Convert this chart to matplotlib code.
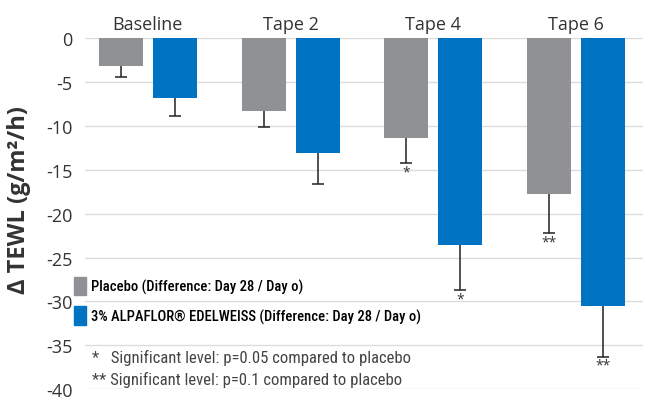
import matplotlib.pyplot as plt
import matplotlib.font_manager as fm
import numpy as np
from matplotlib.patches import Patch

groups = ['Baseline', 'Tape 2', 'Tape 4', 'Tape 6']
placebo = [-3.1, -8.3, -11.4, -17.7]
placebo_err = [1.25, 1.85, 2.8, 4.5]
placebo_sig = ['', '', '*', '**']
alpaflor = [-6.75, -13.05, -23.6, -30.5]
alpaflor_err = [2.05, 3.55, 5.1, 5.8]
alpaflor_sig = ['', '', '*', '**']
yticks = [0, -5, -10, -15, -20, -25, -30, -35, -40]

legend_labels = ['Placebo (Difference: Day 28 / Day o)',
                 '3% ALPAFLOR® EDELWEISS (Difference: Day 28 / Day o)']
notes = ['*   Significant level: p=0.05 compared to placebo',
         '** Significant level: p=0.1 compared to placebo']

gray = '#909194'
blue = '#0073c2'

plt.rcParams['font.family'] = ['Open Sans', 'DejaVu Sans']

# pick a narrow face for the small texts if there is one
names = {f.name for f in fm.fontManager.ttflist}
narrow = next((n for n in ['Liberation Sans Narrow', 'Roboto Condensed',
                           'Open Sans Condensed', 'Noto Sans'] if n in names), 'DejaVu Sans')

fig = plt.figure(figsize=(6.6, 4.14), dpi=100)
ax = fig.add_axes([0.1288, 0.058, 0.845, 0.8466])

x = np.arange(len(groups))
w = 0.308
off = 0.189

ax.bar(x - off, placebo, w, color=gray, zorder=2)
ax.bar(x + off, alpaflor, w, color=blue, zorder=2)

# error bars only go down, so hide the upper caps
for xs, vals, errs in [(x - off, placebo, placebo_err), (x + off, alpaflor, alpaflor_err)]:
    eb = ax.errorbar(xs, vals, yerr=[errs, np.zeros(4)], fmt='none',
                     ecolor='#222222', elinewidth=1.1, capsize=4, capthick=1.1, zorder=3)
    eb[1][1].set_visible(False)

for i in range(len(groups)):
    if placebo_sig[i]:
        ax.annotate(placebo_sig[i], (x[i] - off, placebo[i] - placebo_err[i]),
                    xytext=(0, -1), textcoords='offset points', ha='center', va='top',
                    fontsize=10, color='#333333')
    if alpaflor_sig[i]:
        ax.annotate(alpaflor_sig[i], (x[i] + off, alpaflor[i] - alpaflor_err[i]),
                    xytext=(0, -1), textcoords='offset points', ha='center', va='top',
                    fontsize=10, color='#333333')

ax.set_xlim(-0.44, 3.466)
ax.set_ylim(-40, 0)
ax.set_yticks(yticks)
ax.set_yticklabels([str(t) for t in yticks], fontsize=13, color='#333333')
ax.tick_params(axis='y', length=0, pad=9)
ax.set_xticks(x)
ax.set_xticklabels(groups, fontsize=13, color='#333333')
ax.xaxis.tick_top()
ax.tick_params(axis='x', length=0, pad=4)

ax.grid(axis='y', color='#dcdcdc', linewidth=1, zorder=0)
ax.axhline(0, color='#999999', linewidth=1.2, zorder=1)
for s in ax.spines.values():
    s.set_visible(False)

ax.set_ylabel('Δ TEWL (g/m²/h)', fontsize=17, fontweight='bold', color='#333333')
ax.yaxis.set_label_coords(-0.097, 0.542)

handles = [Patch(color=gray), Patch(color=blue)]
ax.legend(handles, legend_labels, loc='upper left', bbox_to_anchor=(-0.03, 0.336),
          frameon=False, handlelength=0.8, handleheight=1.55,
          handletextpad=0.35, labelspacing=0.75, borderaxespad=0,
          prop={'family': [narrow, 'DejaVu Sans'], 'stretch': 'condensed',
                'weight': 'medium', 'size': 10.5})

for yy, note in zip([0.091, 0.029], notes):
    ax.text(0.012, yy, note, transform=ax.transAxes, fontsize=12, color='#444444',
            va='center', family=[narrow, 'DejaVu Sans'], stretch='condensed')

fig.savefig('out.png', dpi=100)
